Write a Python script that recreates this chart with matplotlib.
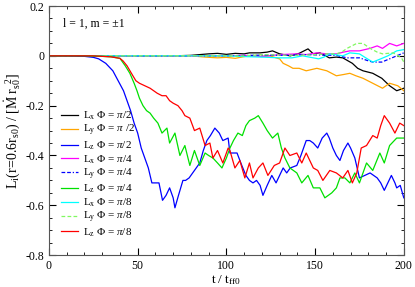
import matplotlib
matplotlib.use("Agg")
import matplotlib.pyplot as plt
import numpy as np
from matplotlib.ticker import MultipleLocator

plt.rcParams['font.family'] = 'Liberation Serif'
plt.rcParams['mathtext.fontset'] = 'custom'
plt.rcParams['mathtext.rm'] = 'Liberation Serif'
plt.rcParams['mathtext.it'] = 'Liberation Serif:italic'

# L_z, Phi = pi/2 (blue)
t_z2 = [0, 10, 20, 25, 28, 32, 36, 39, 42, 44, 46, 48, 50, 52, 54, 56, 58, 60, 62, 64,
        66, 68, 70, 71, 73, 75.5, 77, 79, 82, 85, 87, 89, 91, 93.5, 96, 98, 101, 102, 104, 106,
        108.7, 111, 113, 115, 117, 119, 120.6, 123, 125.6, 128, 130, 132, 134, 136, 139.7, 142,
        145, 147, 149, 151.5, 154, 156.6, 158, 160, 162, 164, 166, 168.5, 170, 172.4, 175, 178,
        181, 183, 185, 187, 189, 191, 193, 195, 196, 198, 200]
lz2 = [0, 0, -0.002, -0.006, -0.012, -0.03, -0.06, -0.1, -0.14, -0.18, -0.22, -0.27, -0.31,
       -0.37, -0.41, -0.45, -0.51, -0.51, -0.51, -0.58, -0.56, -0.53, -0.57, -0.61, -0.56, -0.50,
       -0.50, -0.49, -0.46, -0.43, -0.38, -0.34, -0.32, -0.29, -0.31, -0.34, -0.33, -0.39, -0.39,
       -0.39, -0.44, -0.48, -0.50, -0.51, -0.50, -0.52, -0.56, -0.52, -0.48, -0.51, -0.48, -0.45,
       -0.47, -0.45, -0.44, -0.40, -0.34, -0.34, -0.35, -0.37, -0.33, -0.31, -0.33, -0.37, -0.40,
       -0.42, -0.38, -0.35, -0.37, -0.41, -0.49, -0.48, -0.47, -0.48, -0.49, -0.51, -0.54, -0.51,
       -0.48, -0.51, -0.53, -0.52, -0.57]

# L_z, Phi = pi/4 (green)
t_z4 = [0, 20, 30, 35, 40, 43, 45.6, 48, 49.6, 51, 53, 55, 57, 59, 61.4, 63.7, 66.5, 68, 71,
        73.8, 76.6, 79.4, 82, 85, 88, 90, 92.4, 95, 97.5, 100, 102, 104, 106.5, 109, 111, 113,
        116, 118, 120.6, 123, 126, 129, 131, 133, 135.8, 139.7, 142.5, 146, 149, 152.7, 155.5,
        159.4, 162, 164, 166.8, 169.6, 172.4, 175, 179, 182.5, 186.5, 189, 192, 196, 200]
lz4 = [0, 0, -0.002, -0.004, -0.01, -0.04, -0.07, -0.11, -0.14, -0.17, -0.20, -0.22, -0.23,
       -0.25, -0.27, -0.31, -0.29, -0.35, -0.31, -0.40, -0.36, -0.44, -0.38, -0.44, -0.39, -0.40,
       -0.41, -0.43, -0.45, -0.41, -0.37, -0.34, -0.31, -0.32, -0.28, -0.26, -0.25, -0.24, -0.27,
       -0.30, -0.33, -0.31, -0.37, -0.41, -0.45, -0.47, -0.51, -0.48, -0.53, -0.53, -0.57, -0.55,
       -0.53, -0.49, -0.49, -0.51, -0.47, -0.51, -0.43, -0.46, -0.39, -0.43, -0.36, -0.33, -0.33]

# L_z, Phi = pi/8 (red)
t_z8 = [0, 25, 35, 40, 41.7, 44, 47.3, 49, 51, 54, 57, 61, 63.7, 66, 68, 70, 72.7, 75, 76.6,
        79.4, 82, 85, 88, 90.7, 92.4, 95, 98, 101, 102, 104.8, 107.6, 110.4, 113, 115, 118,
        120.6, 123.4, 127, 130, 133, 135.8, 139.7, 142.5, 145, 149, 151.5, 154.4, 158.3, 162,
        165.6, 168.5, 171, 173.5, 176, 179, 182.5, 185, 187, 189, 192, 195, 197.7, 200]
lz8 = [0, 0, -0.004, -0.01, -0.02, -0.04, -0.08, -0.10, -0.11, -0.12, -0.13, -0.15, -0.16,
       -0.16, -0.18, -0.19, -0.20, -0.22, -0.24, -0.25, -0.30, -0.29, -0.36, -0.35, -0.41, -0.38,
       -0.43, -0.37, -0.38, -0.45, -0.42, -0.49, -0.43, -0.49, -0.45, -0.43, -0.48, -0.44, -0.43,
       -0.37, -0.40, -0.39, -0.43, -0.39, -0.45, -0.46, -0.50, -0.46, -0.47, -0.49, -0.46, -0.51,
       -0.47, -0.37, -0.36, -0.32, -0.33, -0.28, -0.24, -0.27, -0.31, -0.27, -0.28]

# L_x, Phi = pi/2 (black)
t_x2 = [0, 70, 80, 85, 90, 95, 100, 105, 110, 113, 119, 123, 126, 130, 136, 141, 146, 149,
        152.7, 158, 162, 165.6, 171, 174, 177, 182.5, 187.6, 192, 196, 200]
lx2 = [0, 0, 0.002, 0.005, 0.008, 0.01, 0.006, 0.01, 0.008, 0.012, 0.012, 0.015, 0.02, 0.008,
       0, 0.01, 0.028, 0.008, 0.012, -0.008, -0.005, -0.008, -0.03, -0.05, -0.06, -0.07, -0.09,
       -0.12, -0.14, -0.13]

# L_y, Phi = pi/2 (orange)
t_y2 = [0, 80, 88, 95, 100, 105, 110, 113, 118, 124.5, 128, 130, 132, 135, 137.5, 141, 145,
        148, 151, 156.6, 162, 166, 169.6, 173, 177, 182.5, 188, 192, 196.6, 200]
ly2 = [0, 0, -0.005, -0.008, -0.006, -0.01, -0.003, 0, -0.002, 0, -0.008, -0.012, -0.03,
       -0.04, -0.05, -0.05, -0.06, -0.055, -0.05, -0.06, -0.08, -0.075, -0.07, -0.08, -0.09,
       -0.11, -0.13, -0.11, -0.12, -0.14]

# L_x, Phi = pi/4 (magenta)
t_x4 = [0, 100, 110, 120, 130, 140, 145, 151, 156.6, 162, 166, 169.6, 175, 181, 185, 188, 192,
        196, 200]
lx4 = [0, 0, 0.002, -0.003, 0.005, 0.008, 0.005, 0.012, 0.008, 0.008, 0.015, 0.02, 0.02, 0.03,
       0.04, 0.03, 0.05, 0.04, 0.05]

# L_y, Phi = pi/4 (blue dashed)
t_y4 = [0, 100, 120, 135, 145, 155, 162, 168, 175, 180, 182.5, 187.6, 192, 196, 200]
ly4 = [0, 0, 0.003, 0.002, 0.005, 0.003, 0.002, -0.008, -0.008, -0.02, -0.025, -0.025, -0.012,
       0, 0.012]

# L_x, Phi = pi/8 (cyan)
t_x8 = [0, 100, 110, 120, 130, 137, 143, 149, 152, 155, 158, 162, 165.6, 169.6, 175, 179,
        182.5, 187, 191, 196, 200]
lx8 = [0, 0, -0.003, -0.005, -0.008, -0.008, 0, -0.008, -0.012, -0.005, 0.008, 0.004, 0, 0.012,
       0.008, -0.01, -0.025, -0.012, 0, 0.02, 0.025]

# L_y, Phi = pi/8 (light green dashed)
t_y8 = [0, 110, 120, 130, 140, 150, 156.6, 162, 165, 168, 173.5, 177, 181, 185, 188, 194, 197,
        199, 200]
ly8 = [0, 0, 0.005, 0.003, 0.002, 0.005, 0.008, 0.008, 0.015, 0.03, 0.05, 0.05, 0.03, 0.015,
       0.008, 0.012, 0, -0.012, -0.025]

labels = [r'$\mathrm{L_x}$ $\Phi$ = $\pi$/2', r'$\mathrm{L_y}$ $\Phi$ = $\pi$ /2',
          r'$\mathrm{L_z}$ $\Phi$ = $\pi$/2', r'$\mathrm{L_x}$ $\Phi$ = $\pi$/4',
          r'$\mathrm{L_y}$ $\Phi$ = $\pi$/4', r'$\mathrm{L_z}$ $\Phi$ = $\pi$/4',
          r'$\mathrm{L_x}$ $\Phi$ = $\pi$/8', r'$\mathrm{L_y}$ $\Phi$ = $\pi$/8',
          r'$\mathrm{L_z}$ $\Phi$ = $\pi$/8']

dashdot = (0, (3, 1.5, 3, 1.5, 1, 1.5))
series = [(t_x2, lx2, 'black', '-'), (t_y2, ly2, '#ffa500', '-'), (t_z2, lz2, '#0000ff', '-'),
          (t_x4, lx4, '#ff00ff', '-'), (t_y4, ly4, '#0000ff', dashdot), (t_z4, lz4, '#00e000', '-'),
          (t_x8, lx8, '#00ffff', '-'), (t_y8, ly8, '#80f860', (0, (3, 1.8))), (t_z8, lz8, '#ff0000', '-')]

fig = plt.figure(figsize=(4.15, 2.87), dpi=100)
ax = fig.add_axes([0.118, 0.111, 0.855, 0.868])

# draw the quiet ones first so the big Lz curves sit on top
order = [0, 1, 3, 4, 6, 7, 2, 5, 8]
handles = [None] * 9
for i in order:
    t, v, c, ls = series[i]
    h, = ax.plot(t, v, color=c, ls=ls, lw=0.9, label=labels[i])
    handles[i] = h

ax.set_xlim(0, 200)
ax.set_ylim(-0.8, 0.2)
ax.xaxis.set_major_locator(MultipleLocator(50))
ax.xaxis.set_minor_locator(MultipleLocator(10))
ax.yaxis.set_major_locator(MultipleLocator(0.2))
ax.yaxis.set_minor_locator(MultipleLocator(0.05))
ax.tick_params(which='both', direction='in', top=True, right=True, labelsize=8.5)
ax.tick_params(which='major', length=5)
ax.tick_params(which='minor', length=2.5)
ax.set_yticks([0.2, 0, -0.2, -0.4, -0.6, -0.8])
ax.set_yticklabels(['0.2', '0', '-0.2', '-0.4', '-0.6', '-0.8'])
for s in ax.spines.values():
    s.set_color('#555555')

ax.set_xlabel(r'$\mathrm{t\ /\ t_{ff0}}$', fontsize=9.5, labelpad=1)
ax.set_ylabel(r'$\mathrm{L_i(r\!=\!0.6r_{s0})\ /\ [\dot{M}\ r_{s0}^{\ \ 2}]}$', fontsize=10, labelpad=2)

ax.text(8, 0.13, 'l = 1, m = \u00b11', fontsize=8.5, va='center')

ax.legend(handles=handles, loc='center left', bbox_to_anchor=(0.035, 0.325), frameon=False,
          fontsize=8, labelspacing=0.1, handlelength=1.5, handletextpad=0.45,
          borderpad=0, borderaxespad=0)

fig.savefig('out.png', dpi=100)
